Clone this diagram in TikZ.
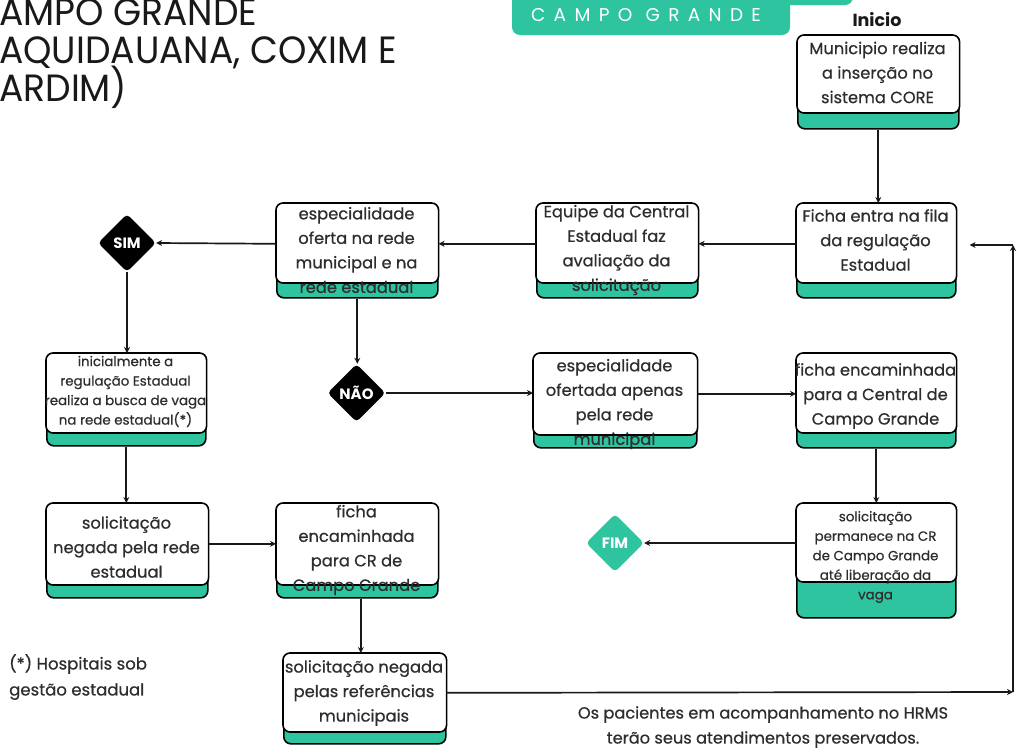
\documentclass[tikz,border=0pt]{standalone}
\usepackage{fontspec}
\setmainfont{Poppins}
\newfontfamily\medfont{Poppins}[FakeBold=0.6]
\usetikzlibrary{arrows.meta,shapes.geometric,calc}
\definecolor{teal1}{RGB}{46,196,160}
\definecolor{txt}{RGB}{45,45,45}
\tikzset{
 conn/.style={line width=1.7pt, -{Stealth[length=6pt,width=6pt]}, draw=black!90},
 outerbox/.style={draw=black, line width=1.6pt, fill=teal1, rounded corners=7pt, inner sep=0pt},
 whitepart/.style={draw=black, line width=1.6pt, fill=white, rounded corners=7pt},
 btext/.style={align=center, text=txt, font=\medfont\fontsize{16.3}{24.5}\selectfont, inner sep=0pt},
 stext/.style={align=center, text=txt, font=\medfont\fontsize{13.4}{19.5}\selectfont, inner sep=0pt},
 titletext/.style={anchor=base west, inner sep=0pt, text=black!90, font=\fontsize{38}{38}\selectfont},
 decision/.style={diamond, fill=black, rounded corners=4pt, minimum width=58pt, minimum height=58pt, inner sep=0pt, text=white, font=\bfseries\fontsize{15}{15}\selectfont},
}
\newcommand{\flowbox}[9]{%
  \node[outerbox, anchor=north west, minimum width=#4pt, minimum height=#5pt] (#1) at (#2,-#3) {};
  \draw[whitepart] (#1.north west) rectangle ([yshift=-#6pt]#1.north east);
  \node[#7] (#1-t) at (#8) {#9};
}
\begin{document}
\begin{tikzpicture}[x=1pt,y=1pt]
\useasboundingbox (0,0) rectangle (1017,-753);
\clip (0,0) rectangle (1017,-753);
\fill[white] (0,0) rectangle (1017,-753);
% title
\node[titletext] (title1) at (-1,-25) {\scalebox{0.95}[1]{AMPO GRANDE}};
\node[titletext] (title2) at (-1,-63) {\scalebox{0.95}[1]{AQUIDAUANA, COXIM E}};
\node[titletext] (title3) at (-1,-101) {\scalebox{0.95}[1]{ARDIM)}};
% banner
\fill[teal1, rounded corners=8pt] (512,12) rectangle (790,-35);
\fill[teal1, rounded corners=8pt] (512,12) rectangle (853,-5);
\node[text=white, inner sep=0pt, font=\fontsize{18.5}{18.5}\selectfont\addfontfeature{LetterSpace=45}] (banner) at (646,-15) {CAMPO GRANDE};
\node[anchor=base, inner sep=0pt, text=black!90, font=\bfseries\fontsize{17.5}{17.5}\selectfont] (inicio) at (877,-26) {Inicio};
% boxes
\flowbox{b1}{797}{35}{161}{93}{78}{btext}{877.5,-72.5}{Municipio realiza\\a inserção no\\sistema CORE}
\flowbox{b2}{796}{203}{159}{94}{80}{btext}{875.5,-240}{Ficha entra na fila\\da regulação\\Estadual}
\flowbox{b3}{536}{203}{161}{94}{80}{btext}{616.5,-250}{Equipe da Central\\Estadual faz\\avaliação da\\solicitação}
\flowbox{b4}{276}{203}{161}{94}{80}{btext}{356.5,-250}{especialidade\\oferta na rede\\municipal e na\\rede estadual}
\flowbox{b5}{46}{353}{159}{92}{80}{stext}{125.5,-391.5}{inicialmente a\\regulação Estadual\\realiza a busca de vaga\\na rede estadual(*)}
\flowbox{b6}{533}{353}{163}{94}{82}{btext}{614.5,-404}{especialidade\\ofertada apenas\\pela rede\\municipal}
\flowbox{b7}{796}{353}{159}{94}{80}{btext}{875.5,-396}{ficha encaminhada\\para a Central de\\Campo Grande}
\flowbox{b8}{796}{503}{159}{114}{79}{stext}{875.5,-557}{solicitação\\permanece na CR\\de Campo Grande\\até liberação da\\vaga}
\flowbox{b9}{46}{503}{161}{94}{82}{btext}{126.5,-547}{solicitação\\negada pela rede\\estadual}
\flowbox{b10}{276}{503}{161}{94}{82}{btext}{356.5,-550}{ficha\\encaminhada\\para CR de\\Campo Grande}
\flowbox{b11}{283}{653}{162}{90}{79}{btext}{364,-693}{solicitação negada\\pelas referências\\municipais}
% decisions
\node[decision] (sim) at (127,-243) {SIM};
\node[decision] (nao) at (356.5,-393) {NÃO};
\node[decision, fill=teal1] (fim) at (615,-543) {FIM};
% free ends
\coordinate (c1) at (1013,-692);
\coordinate (c2) at (1013,-245);
% connectors
\draw[conn] (b1.south) -- (b1.south |- b2.north);
\draw[conn] ([yshift=7pt]b2.west) -- ([yshift=7pt]b3.east);
\draw[conn] ([yshift=7pt]b3.west) -- ([yshift=7pt]b4.east);
\draw[conn] ([yshift=7pt]b4.west) -- (sim.east);
\draw[conn] (sim.south) -- (sim.south |- b5.north);
\draw[conn] (b4.south) -- (b4.south |- nao.north);
\draw[conn] (nao.east) -- (nao.east -| b6.west);
\draw[conn] ([yshift=7pt]b6.east) -- ([yshift=7pt]b7.west);
\draw[conn] (b7.south) -- (b7.south |- b8.north);
\draw[conn] (fim.east -| b8.west) -- (fim.east);
\draw[conn] (b5.south) -- (b5.south |- b9.north);
\draw[conn] ([yshift=7pt]b9.east) -- ([yshift=7pt]b10.west);
\draw[conn] ([xshift=3.5pt]b10.south) -- ([xshift=3.5pt]b10.south |- b11.north);
\draw[conn] ([yshift=6pt]b11.east) -- (c1);
\draw[conn] (c1) -- (c2);
\draw[conn] (c2) -- ([xshift=13pt]b2.east |- c2);
% notes
\node[anchor=west, align=left, inner sep=0pt, text=txt, font=\medfont\fontsize{16.5}{26}\selectfont] (nota) at (9,-677) {(*) Hospitais sob\\gestão estadual};
\node[align=center, inner sep=0pt, text=txt, font=\medfont\fontsize{16.2}{25}\selectfont] (obs) at (763,-727) {Os pacientes em acompanhamento no HRMS\\terão seus atendimentos preservados.};
\end{tikzpicture}
\end{document}
